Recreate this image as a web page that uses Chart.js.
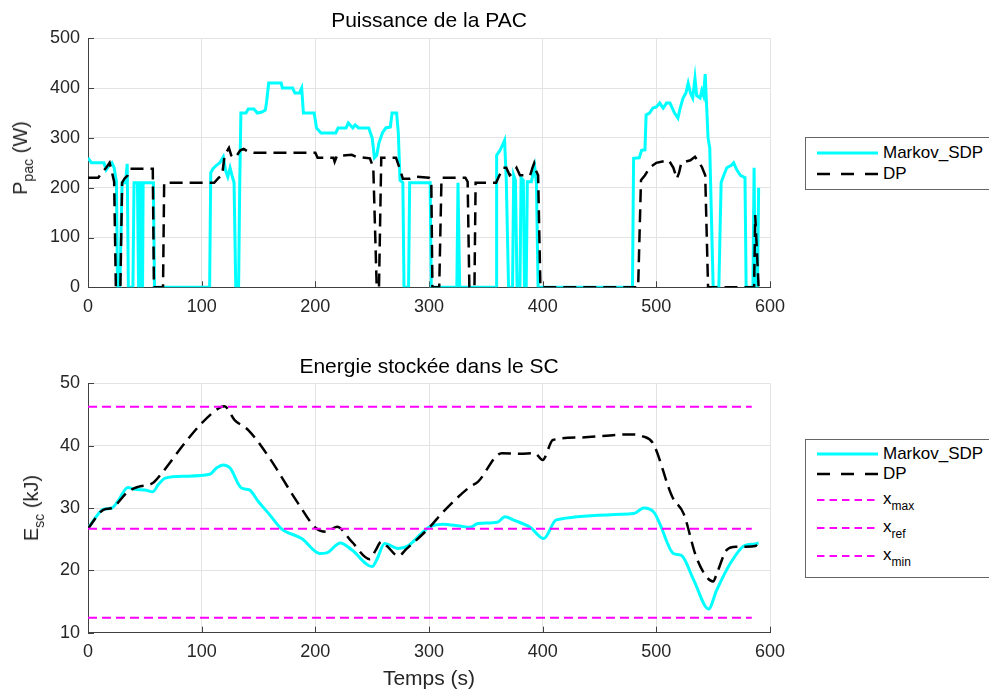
<!DOCTYPE html>
<html>
<head>
<meta charset="utf-8">
<script src="https://cdn.jsdelivr.net/npm/chart.js@4.4.1/dist/chart.umd.min.js"></script>
<style>
  body { margin: 0; background: #fff; overflow: hidden; width: 989px; height: 693px; position: relative; font-family: 'Liberation Sans', Arial, sans-serif; }
  canvas { position: absolute; left: 0; }
  .ylab { position: absolute; font-size: 20px; line-height: 24px; height: 24px; white-space: nowrap; color: #262626;
          transform: translate(-50%, -50%) rotate(-90deg); }
  .ylab .s { font-size: 14px; position: relative; top: 6px; line-height: 0; }
  .legend { position: absolute; left: 805px; width: 200px; border: 1px solid #666; background: #fff; }
  .row { position: absolute; left: 0; height: 24px; width: 200px; line-height: 24px; font-size: 17px; color: #000; }
  .row svg { position: absolute; left: 11px; top: 0; }
  .row span.t { position: absolute; left: 77px; top: 0; }
  .row .s { font-size: 12px; position: relative; top: 6px; line-height: 0; }
</style>
</head>
<body>
<canvas id="pacChart" width="989" height="320" style="top:0"></canvas>
<canvas id="escChart" width="989" height="348" style="top:345px"></canvas>

<div class="ylab" style="left:20px; top:158px">P<span class="s">pac</span> (W)</div>
<div class="ylab" style="left:31px; top:508px">E<span class="s">sc</span> (kJ)</div>

<div class="legend" style="top:137px; height:51px">
  <div class="row" style="top:3px">
    <svg width="62" height="24"><line x1="0" y1="12" x2="61" y2="12" stroke="#00ffff" stroke-width="3"/></svg>
    <span class="t">Markov_SDP</span>
  </div>
  <div class="row" style="top:24px">
    <svg width="62" height="24"><line x1="0" y1="12" x2="61" y2="12" stroke="#000" stroke-width="2.5" stroke-dasharray="13 11"/></svg>
    <span class="t">DP</span>
  </div>
</div>

<div class="legend" style="top:439px; height:137px">
  <div class="row" style="top:2px">
    <svg width="62" height="24"><line x1="0" y1="12" x2="61" y2="12" stroke="#00ffff" stroke-width="3"/></svg>
    <span class="t">Markov_SDP</span>
  </div>
  <div class="row" style="top:22px">
    <svg width="62" height="24"><line x1="0" y1="12" x2="61" y2="12" stroke="#000" stroke-width="2.5" stroke-dasharray="13 11"/></svg>
    <span class="t">DP</span>
  </div>
  <div class="row" style="top:48px">
    <svg width="62" height="24"><line x1="0" y1="12" x2="61" y2="12" stroke="#ff00ff" stroke-width="2" stroke-dasharray="7.5 5"/></svg>
    <span class="t" style="top:-1px">x<span class="s">max</span></span>
  </div>
  <div class="row" style="top:76px">
    <svg width="62" height="24"><line x1="0" y1="12" x2="61" y2="12" stroke="#ff00ff" stroke-width="2" stroke-dasharray="7.5 5"/></svg>
    <span class="t" style="top:-1px">x<span class="s">ref</span></span>
  </div>
  <div class="row" style="top:104px">
    <svg width="62" height="24"><line x1="0" y1="12" x2="61" y2="12" stroke="#ff00ff" stroke-width="2" stroke-dasharray="7.5 5"/></svg>
    <span class="t" style="top:-1px">x<span class="s">min</span></span>
  </div>
</div>

<script>
// ---- data ----
// puissance PAC, Markov_SDP
const tPacMarkov = [0,3,14,16,19,21,23,25,26,28,30,33,34.5,35.5,39.5,40.5,43.5,44.5,45.5,46,47,47.5,48,48.5,57.5,58.5,
  107,108,110,113,116,119,121,123,125,127,128.5,130,132.5,133.5,134.5,139,141,146,149,153,156,157,159,170,171,180,182,186,188,189.5,
  199,201,205,218,220,227,229,233,235,238,247,250,252,254,256,259,262,266,267.5,271.5,273,274.5,277,278,282,283,301,302,
  324.5,325.5,327,359,359.5,362.5,366.5,368,370,373.5,374.5,376,377.5,380,381,383,384,385.5,386.5,390,393,394.5,396,
  479,480,485,487,490,491,494,497,500,503,506,509,512,516,519,521,523.5,526,528,530,532,534,535.5,538.5,540,541.5,543,545.5,547,550,
  555,557,558.5,562,566,568,571,574,578,579,585,586,587,589,590];
const pacMarkov = [260,250,250,236,246,250,240,212,0,0,210,210,248,0,0,210,210,0,0,210,210,0,0,210,210,0,
  0,230,238,245,250,262,235,222,240,222,210,0,0,210,350,350,358,358,350,352,356,370,410,410,400,400,390,390,400,350,
  350,320,310,310,320,320,330,320,326,320,320,300,260,265,290,310,320,322,350,350,310,215,210,0,0,210,210,0,
  0,210,0,0,265,275,295,215,0,0,225,215,0,0,220,215,0,0,212,212,242,210,0,
  0,259,260,275,276,346,350,360,362,370,360,370,370,350,340,360,380,390,410,390,380,420,385,380,395,385,428,300,280,0,
  0,210,220,240,245,250,235,225,220,0,0,240,0,0,200];

// puissance PAC, DP
const tPacDp = [0,9,12,16,19,21,23,24.5,28.5,30,32,35,37,57,58,66,67,111,115,118,120,122,124,126,128,131,134,137,141,146,
  200,202,216,217,219,232,236,248,251,254,256,258,271,274,277,283,288,300,302,303,309,311,332,334,335.5,340,341,
  359,362,365,368,371,374,377,380,389,391,392.5,394,396,398,484,486.5,490,494,500,511,515,518,520,522,530,534,537,540,543,545.5,
  586,587,590];
const pacDp = [220,220,230,240,250,232,212,0,0,210,218,225,238,238,0,0,210,210,220,225,262,272,280,265,260,265,275,278,272,270,
  270,260,260,252,264,266,262,259,240,0,0,260,260,240,218,218,222,220,215,0,0,220,220,212,0,0,210,
  210,225,240,240,225,230,240,225,225,240,249,235,225,0,0,215,225,240,250,255,240,218,230,250,255,262,252,242,225,0,
  0,145,0];

// energie SC, Markov_SDP
const tEscMarkov = [0,6,13.5,21,27,35,41,50,57,62,68,85,107,113,119,125,135,142,150,159,170,188,204,210,222,232,250,254,261,
  273,282,295,301,312,327,336,343,360,367,374,389,401,412,480,489,498,503,515,522,533,546,553,565,578,586,590];
const escMarkov = [26.7,28.3,29.8,30.0,31.3,33.3,33.0,32.9,32.6,33.8,34.8,35.1,35.4,36.4,36.9,36.4,33.2,32.9,31.0,29.1,26.7,25.1,22.7,22.8,24.4,23.3,20.6,21.7,24.3,
  23.5,24.0,26.2,27.0,27.4,27.1,26.9,27.5,27.7,28.6,28.1,26.9,25.1,28.1,29.1,30.0,29.3,27.5,22.7,22.4,18.4,13.8,16.8,21.1,24.0,24.2,24.4];

// energie SC, DP
const tEscDp = [0,13.5,21,35,44,57,65,85,100,115,120,129,141,159,185,201,210,219,232,248,253,258,263,273,280,301,311,336,343,
  364,380,393,400,409,432,476,488,497,514,524,535,544,550,553,562,570,579,587,590];
const escDp = [26.7,29.7,30.0,32.6,33.4,34.0,35.6,40.4,43.6,46.0,46.3,44.1,42.5,38.2,30.7,26.7,26.2,27.0,24.6,21.8,23.2,24.6,23.9,22.3,23.4,27.0,29.1,33.4,34.2,
  38.8,38.7,38.8,37.7,40.9,41.3,41.8,41.5,40.4,31.8,29.1,22.2,19.0,18.2,19.4,23.3,23.8,23.8,23.9,24.4];

// bornes
const tLimits = [0, 584];
const xMax = 46.25;
const xRef = 26.67;
const xMin = 12.4;

const xTicks = [0, 100, 200, 300, 400, 500, 600];

// ---- helpers ----
function pts(ts, vs) {
  return ts.map((t, i) => ({ x: t, y: vs[i] }));
}

Chart.defaults.font.family = "'Liberation Sans', Arial, sans-serif";
Chart.defaults.color = "#262626";

// small inward ticks like matlab
const inTicks = {
  id: "inTicks",
  beforeDatasetsDraw(chart) {
    const ctx = chart.ctx;
    const a = chart.chartArea;
    const xs = chart.scales.x;
    const ys = chart.scales.y;
    ctx.save();
    ctx.strokeStyle = "#404040";
    ctx.lineWidth = 1;
    ctx.beginPath();
    xs.ticks.forEach((tk) => {
      let px = Math.round(xs.getPixelForValue(tk.value)) + 0.5;
      ctx.moveTo(px, a.bottom);
      ctx.lineTo(px, a.bottom - 6);
    });
    ys.ticks.forEach((tk) => {
      let py = Math.round(ys.getPixelForValue(tk.value)) + 0.5;
      ctx.moveTo(a.left, py);
      ctx.lineTo(a.left + 6, py);
    });
    ctx.stroke();
    ctx.restore();
  },
};

function axes(yMin, yMax, yStep, xHeight, xTitle) {
  return {
    x: {
      type: "linear",
      min: 0,
      max: 600,
      afterBuildTicks: (s) => { s.ticks = xTicks.map((v) => ({ value: v })); },
      afterFit: (s) => { s.height = xHeight; },
      ticks: { font: { size: 18 }, padding: 9, maxRotation: 0, color: "#262626" },
      grid: { color: "#e3e3e3", drawTicks: false },
      border: { color: "#404040", width: 1 },
      title: xTitle
        ? { display: true, text: xTitle, font: { size: 21 }, color: "#262626", padding: { top: 0, bottom: 1 } }
        : { display: false },
    },
    y: {
      min: yMin,
      max: yMax,
      ticks: { stepSize: yStep, font: { size: 18 }, padding: 8, color: "#262626" },
      afterFit: (s) => { s.width = 88; },
      grid: { color: "#e3e3e3", drawTicks: false },
      border: { color: "#404040", width: 1 },
    },
  };
}

new Chart(document.getElementById("pacChart"), {
  type: "line",
  data: {
    datasets: [
      {
        label: "Markov_SDP",
        data: pts(tPacMarkov, pacMarkov),
        borderColor: "#00ffff",
        borderWidth: 3,
        pointRadius: 0,
        order: 2,
      },
      {
        label: "DP",
        data: pts(tPacDp, pacDp),
        borderColor: "#000000",
        borderWidth: 2.5,
        borderDash: [13, 7],
        pointRadius: 0,
        order: 1,
      },
    ],
  },
  options: {
    responsive: false,
    animation: false,
    devicePixelRatio: 1,
    events: [],
    layout: { padding: { left: 0, right: 219, top: 0, bottom: 0 } },
    plugins: {
      legend: { display: false },
      tooltip: { enabled: false },
      title: {
        display: true,
        text: "Puissance de la PAC",
        fullSize: false,
        color: "#000",
        font: { size: 21, weight: "normal" },
        padding: { top: 9, bottom: 4.1 },
      },
    },
    scales: axes(0, 500, 100, 32.7, null),
  },
  plugins: [inTicks],
});

const limitStyle = {
  borderColor: "#ff00ff",
  borderWidth: 2,
  borderDash: [9, 5],
  pointRadius: 0,
  order: 0,
};

new Chart(document.getElementById("escChart"), {
  type: "line",
  data: {
    datasets: [
      {
        label: "Markov_SDP",
        data: pts(tEscMarkov, escMarkov),
        borderColor: "#00ffff",
        borderWidth: 3,
        pointRadius: 0,
        cubicInterpolationMode: "monotone",
        order: 2,
      },
      {
        label: "DP",
        data: pts(tEscDp, escDp),
        borderColor: "#000000",
        borderWidth: 2.5,
        borderDash: [13, 7],
        pointRadius: 0,
        cubicInterpolationMode: "monotone",
        order: 1,
      },
      Object.assign({ label: "x_max", data: pts(tLimits, [xMax, xMax]) }, limitStyle),
      Object.assign({ label: "x_ref", data: pts(tLimits, [xRef, xRef]) }, limitStyle),
      Object.assign({ label: "x_min", data: pts(tLimits, [xMin, xMin]) }, limitStyle),
    ],
  },
  options: {
    responsive: false,
    animation: false,
    devicePixelRatio: 1,
    events: [],
    layout: { padding: { left: 0, right: 219, top: 0, bottom: 0 } },
    plugins: {
      legend: { display: false },
      tooltip: { enabled: false },
      title: {
        display: true,
        text: "Energie stockée dans le SC",
        fullSize: false,
        color: "#000",
        font: { size: 21, weight: "normal" },
        padding: { top: 9.5, bottom: 3.6 },
      },
    },
    scales: axes(10, 50, 10, 60.3, "Temps (s)"),
  },
  plugins: [inTicks],
});
</script>
</body>
</html>
